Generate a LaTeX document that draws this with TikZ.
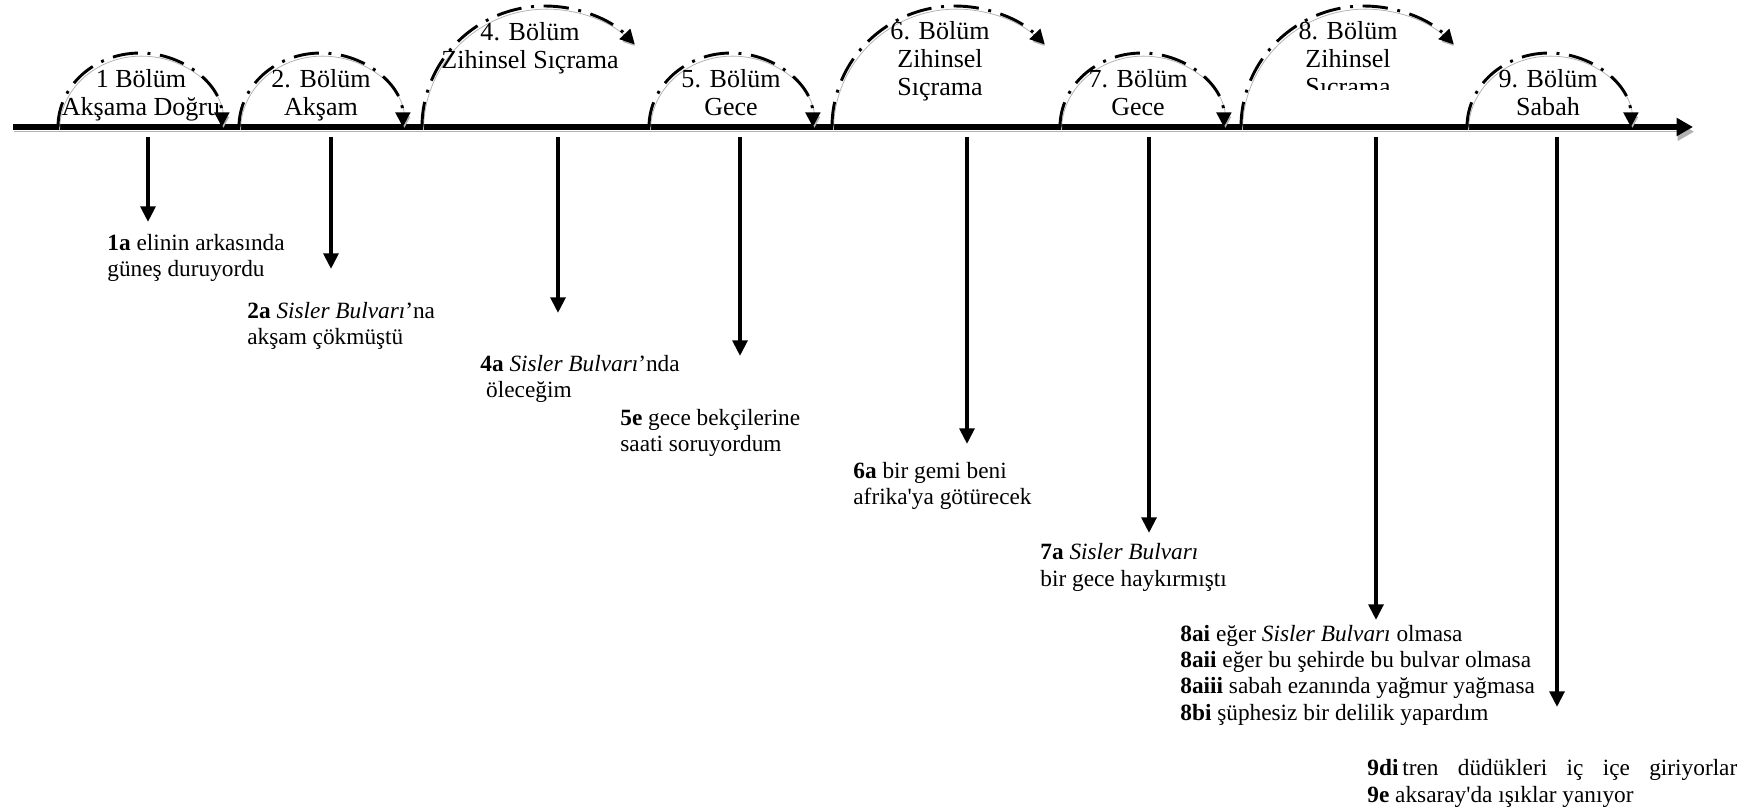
\documentclass[tikz,border=0pt]{standalone}
\usepackage{fontspec}
\setmainfont{Liberation Serif}[Ligatures=TeXOff]
\usepackage{tikz}
\usetikzlibrary{arrows.meta}

\begin{document}
\begin{tikzpicture}[x=0.515pt, y=-0.515pt,
  ghost/.style={preaction={draw=black!30, transform canvas={shift={#1}}}},
  ghost/.default={(0.8pt,-1.6pt)},
  axis/.style={line width=2.6pt, -{Triangle[length=8.5pt,width=9pt]}, ghost={(0.6pt,-2.4pt)}},
  jump/.style={line width=1.5pt, dash pattern=on 13pt off 5pt on 1.5pt off 5pt, -{Triangle[length=7.5pt,width=7.5pt]}, ghost},
  drop/.style={line width=2pt, -{Triangle[length=8pt,width=7.5pt]}},
  part/.style={font=\fontsize{13.4}{14.4}\selectfont, align=center, inner sep=0pt, anchor=north},
  verse/.style={font=\fontsize{12}{13.4}\selectfont, align=left, inner sep=0pt, anchor=base west}]
\useasboundingbox (0,0) rectangle (1740,811);

% time line
\coordinate (t0) at (13,127);
\coordinate (t1) at (1693,127);
\draw[axis] (t0) -- (t1);

% chapters on the line
\foreach \n/\sx in {1/58, 2/239, 5/649, 7/1060, 9/1467}{
  \coordinate (s\n) at (\sx,127);
  \draw[jump] (s\n) arc[start angle=180, end angle=0, x radius=42.2pt, y radius=38.1pt];}
% mental leaps
\foreach \n/\sx in {4/422, 6/832, 8/1241}{
  \coordinate (s\n) at (\sx,127);
  \draw[jump] (s\n) arc[start angle=180, end angle=43, x radius=63.3pt, y radius=62.3pt];}

\node[part] (p1) at (141,69) {1 Bölüm\\Akşama Doğru};
\node[part] (p2) at (321,69) {2. Bölüm\\Akşam};
\node[part] (p4) at (530,22) {4. Bölüm\\Zihinsel Sıçrama};
\node[part] (p5) at (731,69) {5. Bölüm\\Gece};
\node[part] (p6) at (940,21) {6. Bölüm\\Zihinsel\\Sıçrama};
\node[part] (p7) at (1138,69) {7. Bölüm\\Gece};
\begin{scope}
  \clip (1250,0) rectangle (1450,90);
  \node[part] (p8) at (1348,21) {8. Bölüm\\Zihinsel\\Sıçrama};
\end{scope}
\node[part] (p9) at (1548,69) {9. Bölüm\\Sabah};

% drops to the lines of the poem
\foreach \n/\x/\y in {1/148/222, 2/331/269, 4/558/313, 5/740/356, 6/967/444, 7/1149/533, 8/1376/620, 9/1557/707}{
  \coordinate (d\n) at (\x,137);
  \coordinate (e\n) at (\x,\y);
  \draw[drop] (d\n) -- (e\n);}

% base = last line of each block
\node[verse] (q1) at (107,277) {\textbf{1a} elinin arkasında\\güneş duruyordu};
\node[verse] (q2) at (247,345) {\textbf{2a} \textit{Sisler Bulvarı}’na\\akşam çökmüştü};
\node[verse] (q4) at (480,398) {\textbf{4a} \textit{Sisler Bulvarı}’nda\\\hspace*{0.25em}öleceğim};
\node[verse] (q5) at (620,452) {\textbf{5e} gece bekçilerine\\saati soruyordum};
\node[verse] (q6) at (853,505) {\textbf{6a} bir gemi beni\\afrika'ya götürecek};
\node[verse] (q7) at (1040,586) {\textbf{7a} \textit{Sisler Bulvarı}\\bir gece haykırmıştı};
\node[verse] (q8) at (1180,720) {\textbf{8ai} eğer \textit{Sisler Bulvarı} olmasa\\\textbf{8aii} eğer bu şehirde bu bulvar olmasa\\\textbf{8aiii} sabah ezanında yağmur yağmasa\\\textbf{8bi} şüphesiz bir delilik yapardım};
\node[verse] (q9) at (1367,802) {\makebox[190.5pt][s]{\textbf{9di}\,tren\hfill düdükleri\hfill iç\hfill içe\hfill giriyorlar}\\\textbf{9e} aksaray'da ışıklar yanıyor};
\end{tikzpicture}
\end{document}
